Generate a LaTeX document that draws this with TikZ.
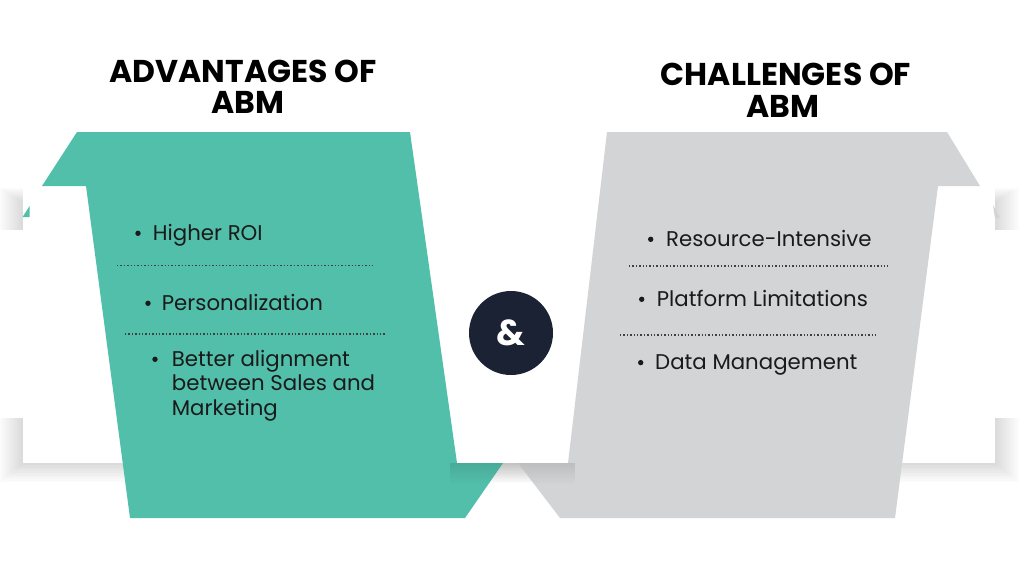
\documentclass[tikz,border=0pt]{standalone}
\usepackage{fontspec}
\setmainfont{Poppins}
\usetikzlibrary{fadings}
\definecolor{abmgreen}{HTML}{52BFAB}
\definecolor{abmgray}{HTML}{D3D4D5}
\definecolor{abmnavy}{HTML}{1B2233}
\definecolor{abmtext}{HTML}{1A1A1A}
\begin{document}
\begin{tikzpicture}[x=1pt,y=-1pt,
  titletxt/.style={font=\fontsize{31.5}{31.5}\selectfont\bfseries, text=black, anchor=base, inner sep=0pt},
  itemtxt/.style={font=\fontsize{21.3}{21.3}\selectfont, text=abmtext, anchor=base west, inner sep=0pt},
  bulletdot/.style={circle, fill=abmtext, inner sep=0pt, minimum size=5.4pt},
  sepline/.style={draw=black!75, line width=1.3pt, dash pattern=on 1.3pt off 2.1pt},
  shadowlayer/.style={fill=black, fill opacity=0.013}
]
\useasboundingbox (0,0) rectangle (1024,576);
\fill[white] (0,0) rectangle (1024,576);

% soft shadow of the white band
\foreach \i in {1,...,12}{
  \fill[shadowlayer] ({23-2*\i},{202-1.2*\i}) rectangle ({995+2*\i},{463+1.6*\i});
}
% white band
\fill[white] (23,186) rectangle (995,463);
\fill[white] (0,230) rectangle (1024,418);

% green shape
\fill[abmgreen] (77,132) -- (410,132) -- (457,463) -- (503,463) -- (465,518) -- (130,518) -- (86,186) -- (42,186) -- cycle;
\fill[abmgreen] (22.6,217) -- (29.6,206) -- (29.6,217) -- cycle;

% gray shape
\fill[abmgray] (607,132) -- (947,132) -- (980,186) -- (938,186) -- (895,518) -- (560,518) -- (518,463) -- (568,463) -- cycle;
\fill[abmgray] (993,205) -- (1000,218) -- (995,218) -- cycle;

% shadow under the centre of the band
\fill[black, opacity=0.10, path fading=south] (450,463) rectangle (575,484);

% titles
\node[titletxt] (advA) at (243,82) {ADVANTAGES OF};
\node[titletxt] (advB) at (248,113) {ABM};
\node[titletxt] (chaA) at (786,85) {CHALLENGES OF};
\node[titletxt] (chaB) at (783,117) {ABM};

% left items
\node[bulletdot] (lb1) at (138,233.3) {};
\node[itemtxt] (lt1) at (152.7,240) {Higher ROI};
\draw[sepline] (117,265.7) -- (375,265.7);
\node[bulletdot] (lb2) at (148,303.3) {};
\node[itemtxt] (lt2) at (161.7,310) {Personalization};
\draw[sepline] (125,334) -- (385,334);
\node[bulletdot] (lb3) at (155,359.3) {};
\node[itemtxt] (lt3a) at (171.7,366) {Better alignment};
\node[itemtxt] (lt3b) at (171.7,390.5) {between Sales and};
\node[itemtxt] (lt3c) at (171.7,415) {Marketing};

% right items
\node[bulletdot] (rb1) at (650.7,239.3) {};
\node[itemtxt] (rt1) at (666,246) {Resource-Intensive};
\draw[sepline] (629,266) -- (888,266);
\node[bulletdot] (rb2) at (641.7,299.3) {};
\node[itemtxt] (rt2) at (656.7,306) {Platform Limitations};
\draw[sepline] (620,335) -- (878,335);
\node[bulletdot] (rb3) at (640.7,362.6) {};
\node[itemtxt] (rt3) at (655,369.3) {Data Management};

% ampersand circle
\node[circle, fill=abmnavy, minimum size=84pt, inner sep=0pt, text=white,
      font=\fontsize{36}{36}\selectfont\bfseries] (amp) at (511,333) {\&};
\end{tikzpicture}
\end{document}
